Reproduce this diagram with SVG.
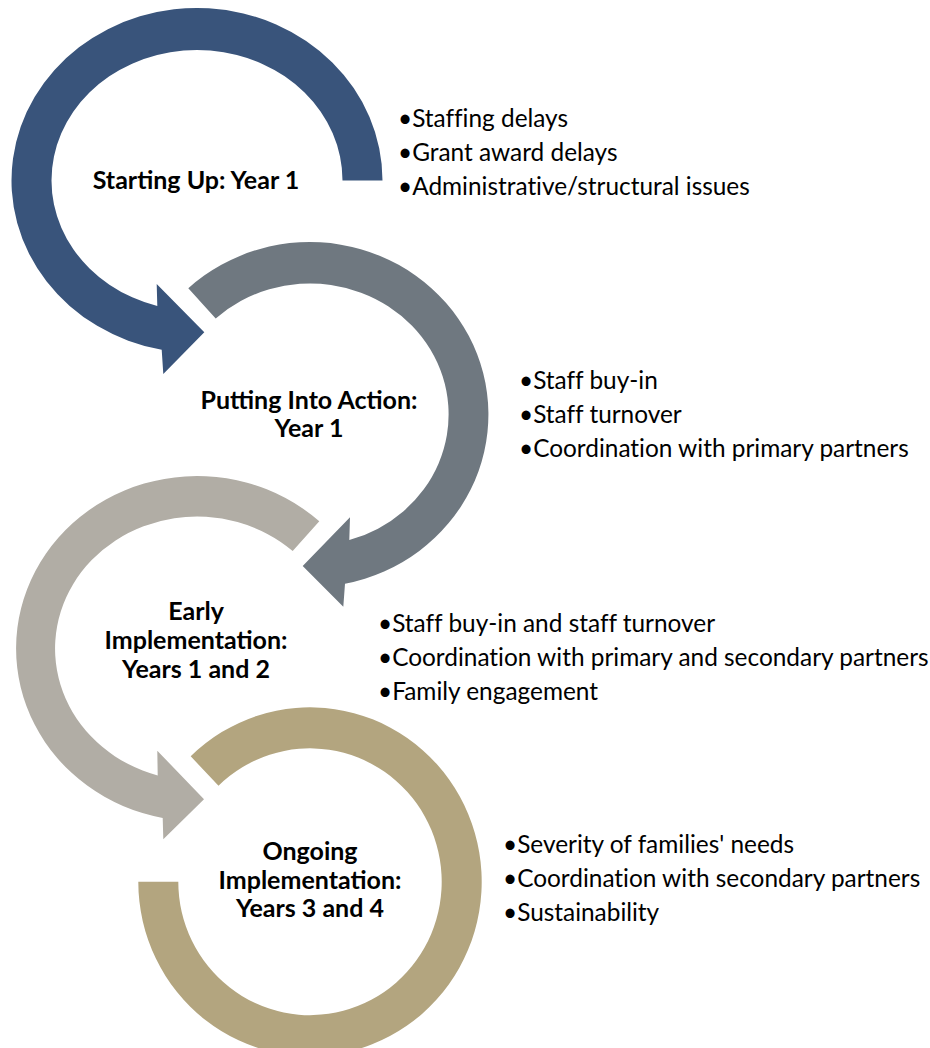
<svg xmlns="http://www.w3.org/2000/svg" width="930" height="1048" viewBox="0 0 930 1048">
  <style>
    .lbl { font-family: Lato, "Open Sans", "Liberation Sans", sans-serif; font-weight: bold; font-size: 25px; fill: #000; text-anchor: middle; }
    .bul { font-family: Lato, "Open Sans", "Liberation Sans", sans-serif; font-size: 24.4px; fill: #000; font-variant-ligatures: none; }
  </style>
  <rect width="930" height="1048" fill="#ffffff"/>

  <!-- Stage 1: Starting Up -->
  <g id="stage-starting-up">
    <path fill="#39547B" d="M382.5,180.5 A185.5,172.5 0 1 0 161.7,349.8 L163.3,374 L204.3,332.3 L156.7,284 L157.3,306 A145.5,130.5 0 1 1 342.5,180.5 Z"/>
    <text class="lbl" x="196" y="189">Starting Up: Year 1</text>
    <text class="bul" x="398" y="127">•Staffing delays</text>
    <text class="bul" x="398" y="161">•Grant award delays</text>
    <text class="bul" x="398" y="195">•Administrative/structural issues</text>
  </g>

  <!-- Stage 2: Putting Into Action -->
  <g id="stage-putting-into-action">
    <path fill="#6F7880" d="M188.3,288.3 A178.5,172.5 0 1 1 345,583.7 L343.3,606.7 L302.7,566 L350,517.3 L349.3,540.1 A138.5,131 0 1 0 215.7,318.6 Z"/>
    <text class="lbl" x="309" y="409">Putting Into Action:</text>
    <text class="lbl" x="309" y="437">Year 1</text>
    <text class="bul" x="519" y="389">•Staff buy-in</text>
    <text class="bul" x="519" y="423">•Staff turnover</text>
    <text class="bul" x="519" y="457">•Coordination with primary partners</text>
  </g>

  <!-- Stage 3: Early Implementation -->
  <g id="stage-early-implementation">
    <path fill="#B1ADA5" d="M319.3,521.3 A181,172.5 0 1 0 162.7,817.9 L163.3,839.3 L204,799.3 L157.3,750.7 L157.7,775.4 A142,132 0 1 1 292.7,551 Z"/>
    <text class="lbl" x="196" y="620">Early</text>
    <text class="lbl" x="196" y="649">Implementation:</text>
    <text class="lbl" x="196" y="678">Years 1 and 2</text>
    <text class="bul" x="378" y="632">•Staff buy-in and staff turnover</text>
    <text class="bul" x="378" y="666">•Coordination with primary and secondary partners</text>
    <text class="bul" x="378" y="700">•Family engagement</text>
  </g>

  <!-- Stage 4: Ongoing Implementation -->
  <g id="stage-ongoing-implementation">
    <path fill="#B3A57F" d="M190.7,756.3 A171.7,174.4 0 1 1 138.3,881.7 L178.3,881.7 A131.7,133.4 0 1 0 218.5,785.8 Z"/>
    <text class="lbl" x="310" y="860">Ongoing</text>
    <text class="lbl" x="310" y="889">Implementation:</text>
    <text class="lbl" x="310" y="917">Years 3 and 4</text>
    <text class="bul" x="503" y="853">•Severity of families' needs</text>
    <text class="bul" x="503" y="887">•Coordination with secondary partners</text>
    <text class="bul" x="503" y="921">•Sustainability</text>
  </g>

  <!-- the ring arrows carry the flow; no separate connectors -->
  <g id="connectors"/>
</svg>
